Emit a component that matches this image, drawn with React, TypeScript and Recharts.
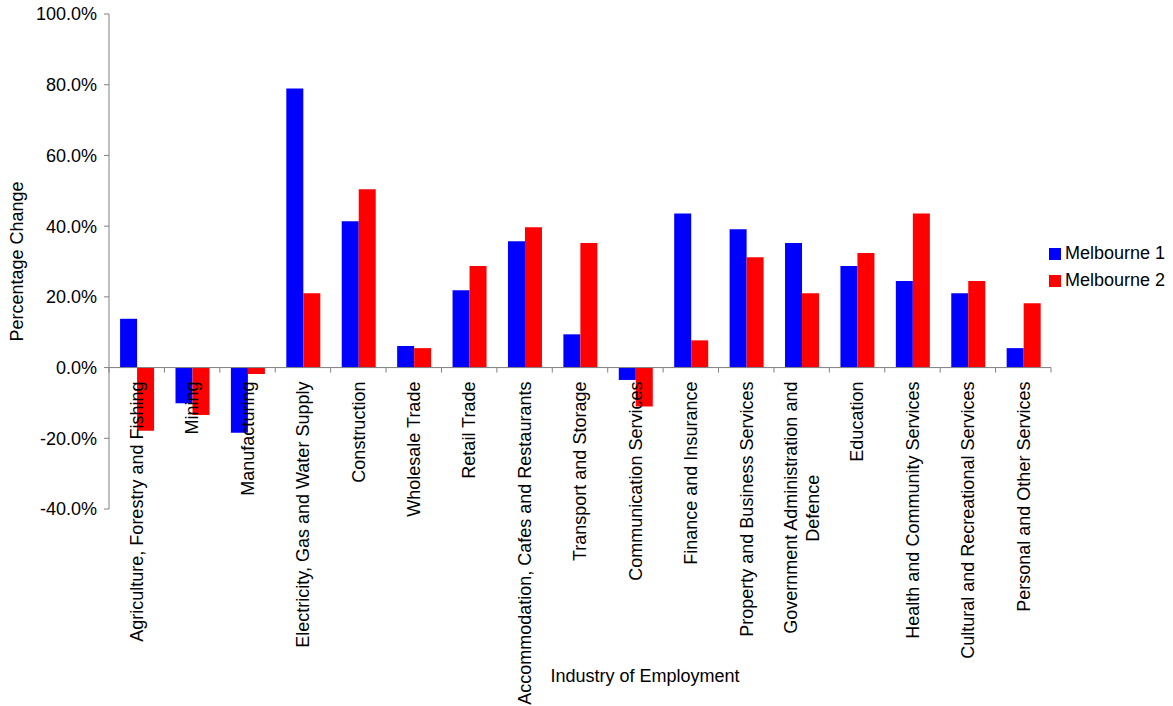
import React from 'react'
import { BarChart, Bar, XAxis, YAxis, Legend, ReferenceLine, Label } from 'recharts'

const categories = [
  'Agriculture, Forestry and Fishing',
  'Mining',
  'Manufacturing',
  'Electricity, Gas and Water Supply',
  'Construction',
  'Wholesale Trade',
  'Retail Trade',
  'Accommodation, Cafes and Restaurants',
  'Transport and Storage',
  'Communication Services',
  'Finance and Insurance',
  'Property and Business Services',
  'Government Administration and Defence',
  'Education',
  'Health and Community Services',
  'Cultural and Recreational Services',
  'Personal and Other Services',
]

// how each category is printed under the axis (one entry per line)
const tickLabels: string[][] = [
  ['Agriculture, Forestry and Fishing'],
  ['Mining'],
  ['Manufacturing'],
  ['Electricity, Gas and Water Supply'],
  ['Construction'],
  ['Wholesale Trade'],
  ['Retail Trade'],
  ['Accommodation, Cafes and Restaurants'],
  ['Transport and Storage'],
  ['Communication Services'],
  ['Finance and Insurance'],
  ['Property and Business Services'],
  ['Government Administration and', 'Defence'],
  ['Education'],
  ['Health and Community Services'],
  ['Cultural and Recreational Services'],
  ['Personal and Other Services'],
]

const melbourne1 = [13.8, -10.1, -18.4, 78.9, 41.4, 6.1, 21.9, 35.7, 9.4, -3.5, 43.6, 39.1, 35.2, 28.7, 24.5, 21.0, 5.5]
const melbourne2 = [-17.9, -13.4, -1.8, 21.0, 50.4, 5.5, 28.7, 39.7, 35.2, -11.0, 7.7, 31.2, 21.0, 32.4, 43.6, 24.5, 18.2]

const yTicks = [-40, -20, 0, 20, 40, 60, 80, 100]
const yDomain: [number, number] = [-40, 100]

const data = categories.map((name, i) => ({
  name,
  m1: melbourne1[i],
  m2: melbourne2[i],
}))

const WIDTH = 1173
const HEIGHT = 706
const MARGIN = { top: 14, right: 122, bottom: 0, left: 0 }
const Y_AXIS_W = 109
const X_AXIS_H = 197
const PLOT_W = WIDTH - MARGIN.left - MARGIN.right - Y_AXIS_W
const PLOT_H = HEIGHT - MARGIN.top - MARGIN.bottom - X_AXIS_H
const ZERO_Y = MARGIN.top + (PLOT_H * yDomain[1]) / (yDomain[1] - yDomain[0])
const BAND = PLOT_W / categories.length

const FONT = '"Liberation Sans", Arial, Helvetica, sans-serif'
const AXIS_COLOR = '#808080'

let measureCtx: CanvasRenderingContext2D | null = null
const measure = (text: string) => {
  if (!measureCtx) {
    measureCtx = document.createElement('canvas').getContext('2d')
  }
  if (!measureCtx) return text.length * 9
  measureCtx.font = `18px ${FONT}`
  return measureCtx.measureText(text).width
}

function CategoryTick(props: any) {
  const { x, payload, index } = props
  const lines = tickLabels[index] ?? [String(payload.value)]
  const top = ZERO_Y + 14
  const lineGap = 22
  const first = measure(lines[0])
  const isLast = index === categories.length - 1
  return (
    <g>
      <line x1={x - BAND / 2} x2={x - BAND / 2} y1={ZERO_Y} y2={ZERO_Y + 5} stroke={AXIS_COLOR} />
      {isLast && (
        <line x1={x + BAND / 2} x2={x + BAND / 2} y1={ZERO_Y} y2={ZERO_Y + 5} stroke={AXIS_COLOR} />
      )}
      {lines.map((line, k) => {
        const lx = x + (k - (lines.length - 1) / 2) * lineGap
        const ly = k === 0 ? top : top + first / 2
        return (
          <text
            key={k}
            x={lx}
            y={ly}
            dy="0.35em"
            fontSize={18}
            fill="#000"
            textAnchor={k === 0 ? 'end' : 'middle'}
            transform={`rotate(-90, ${lx}, ${ly})`}
          >
            {line}
          </text>
        )
      })}
    </g>
  )
}

function LegendBox(props: any) {
  const { payload } = props
  return (
    <div style={{ fontFamily: FONT, fontSize: 18, color: '#000' }}>
      {(payload ?? []).map((entry: any) => (
        <div key={entry.value} style={{ display: 'flex', alignItems: 'center', height: 27 }}>
          <span style={{ width: 12, height: 12, background: entry.color, marginRight: 4, display: 'inline-block' }} />
          <span>{entry.value}</span>
        </div>
      ))}
    </div>
  )
}

export default function App() {
  return (
    <div style={{ position: 'absolute', left: 0, top: 0, width: WIDTH, height: HEIGHT, background: '#fff' }}>
      <BarChart
        width={WIDTH}
        height={HEIGHT}
        data={data}
        margin={MARGIN}
        barCategoryGap="20%"
        barGap={0}
        style={{ fontFamily: FONT }}
      >
        <XAxis
          dataKey="name"
          height={X_AXIS_H}
          axisLine={false}
          tickLine={false}
          interval={0}
          tick={<CategoryTick />}
        >
          <Label
            content={() => (
              <text x={645} y={682} textAnchor="middle" fontSize={18} fill="#000">
                Industry of Employment
              </text>
            )}
          />
        </XAxis>
        <YAxis
          width={Y_AXIS_W}
          domain={yDomain}
          ticks={yTicks}
          allowDataOverflow
          tickFormatter={(v: number) => `${v.toFixed(1)}%`}
          axisLine={{ stroke: AXIS_COLOR }}
          tickLine={{ stroke: AXIS_COLOR }}
          tickSize={5}
          tickMargin={7}
          tick={{ fill: '#000', fontSize: 18 }}
        >
          <Label
            value="Percentage Change"
            angle={-90}
            position="insideLeft"
            offset={17}
            style={{ textAnchor: 'middle', fontSize: 18, fill: '#000' }}
          />
        </YAxis>
        <Legend
          layout="vertical"
          align="center"
          verticalAlign="middle"
          content={<LegendBox />}
          wrapperStyle={{ left: 1049, top: 240, width: 'auto', right: 'auto', bottom: 'auto' }}
        />
        <Bar dataKey="m1" name="Melbourne 1" fill="#0000FF" isAnimationActive={false} />
        <Bar dataKey="m2" name="Melbourne 2" fill="#FF0000" isAnimationActive={false} />
        <ReferenceLine y={0} stroke={AXIS_COLOR} />
      </BarChart>
    </div>
  )
}
